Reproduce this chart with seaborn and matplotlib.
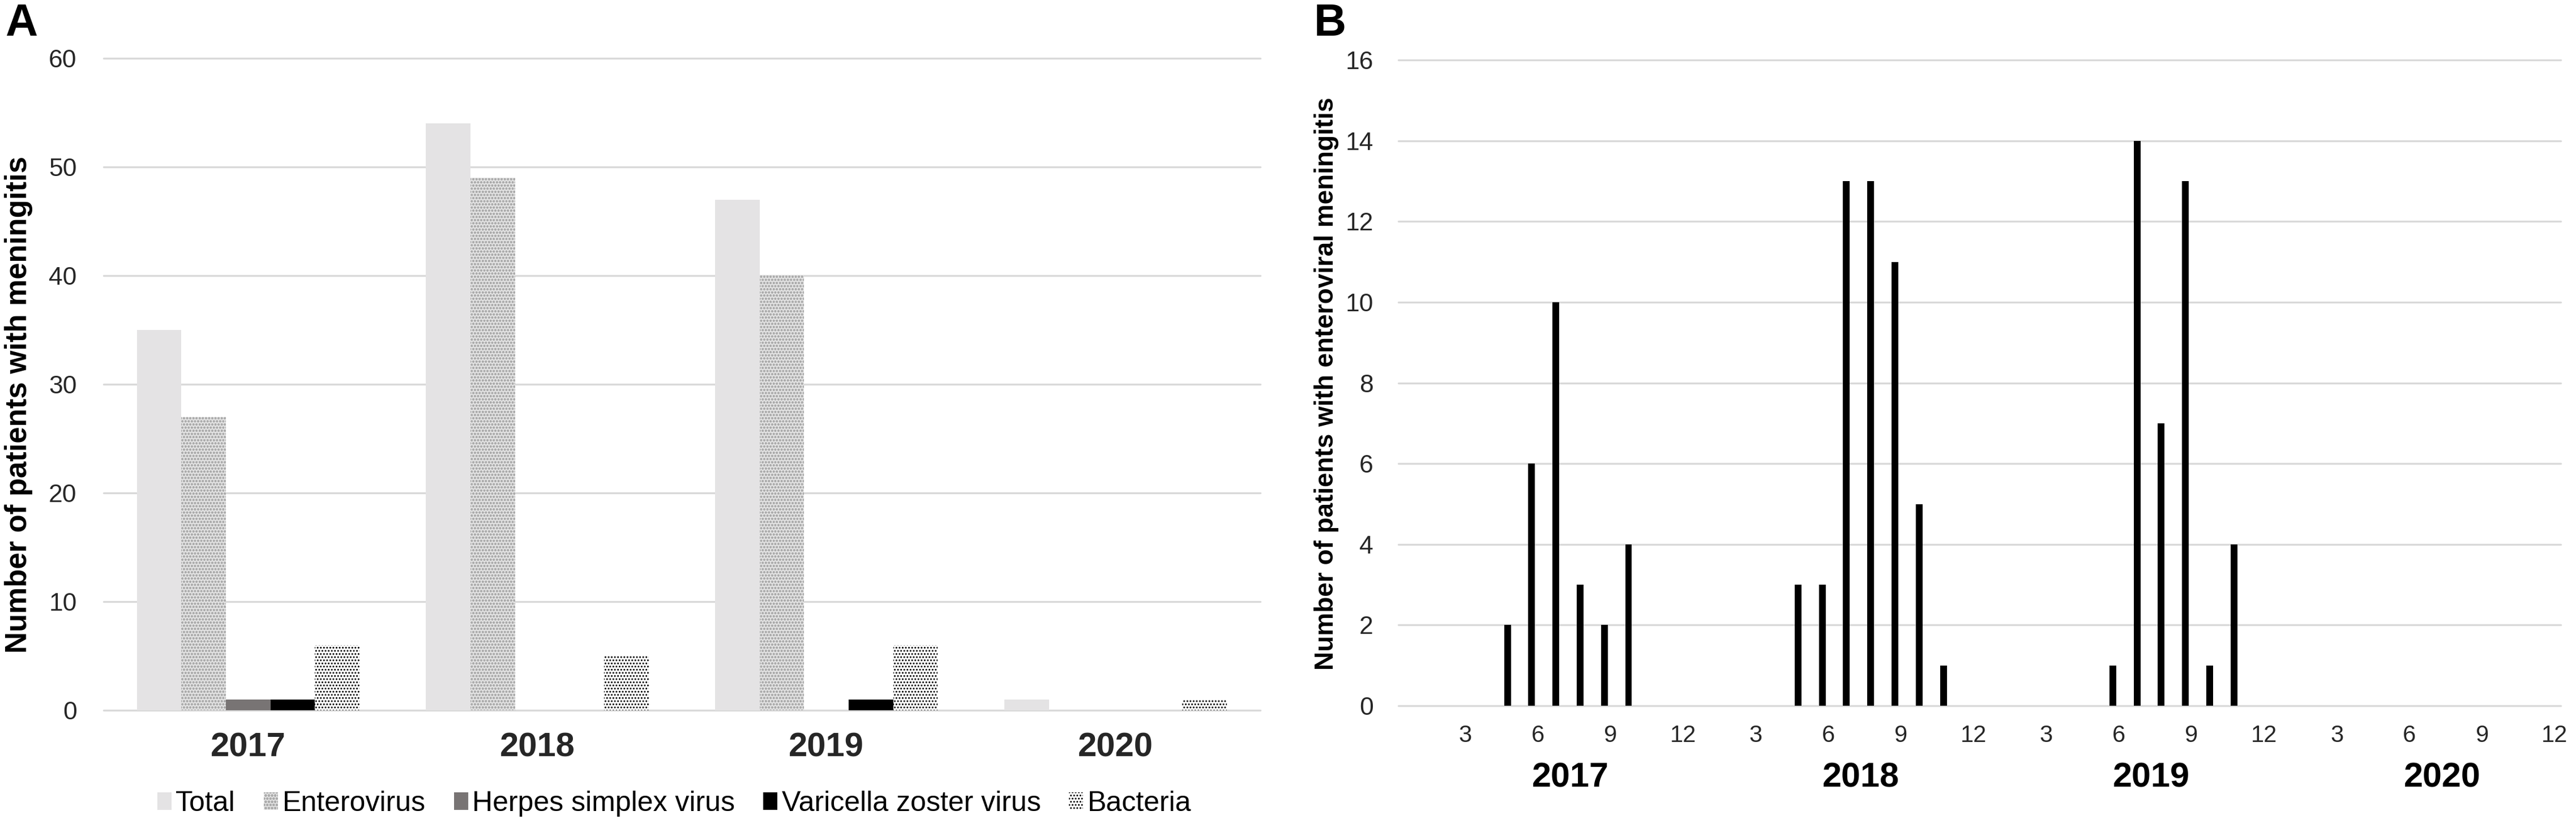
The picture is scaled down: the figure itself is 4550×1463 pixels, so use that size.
import matplotlib
matplotlib.use("Agg")
import matplotlib.pyplot as plt
import matplotlib.transforms as mtransforms
import numpy as np
import pandas as pd
import seaborn as sns

# panel A: yearly counts
years = ["2017", "2018", "2019", "2020"]
groups = ["Total", "Enterovirus", "Herpes simplex virus", "Varicella zoster virus", "Bacteria"]
total = [35, 54, 47, 1]
enterovirus = [27, 49, 40, 0]
herpes = [1, 0, 0, 0]
varicella = [1, 0, 1, 0]
bacteria = [6, 5, 6, 1]

# panel B: monthly enteroviral meningitis
months = [1, 2, 3, 4, 5, 6, 7, 8, 9, 10, 11, 12]
ev_2017 = [0, 0, 0, 0, 2, 6, 10, 3, 2, 4, 0, 0]
ev_2018 = [0, 0, 0, 0, 3, 3, 13, 13, 11, 5, 1, 0]
ev_2019 = [0, 0, 0, 0, 0, 1, 14, 7, 13, 1, 4, 0]
ev_2020 = [0, 0, 0, 0, 0, 0, 0, 0, 0, 0, 0, 0]
month_ticks = [3, 6, 9, 12]

GRID = "#d9d9d9"
colors = ["#e4e3e4", "#e2e2e2", "#787474", "#000000", "#ffffff"]
hatch_col = ["#e4e3e4", "#ababab", "#787474", "#000000", "#000000"]
hatches = ["", "ooo", "", "", "..."]
hatch_lw = [1, 1.1, 1, 1, 1.4]

sns.set_style("white")
plt.rcParams["font.family"] = ["Liberation Sans", "DejaVu Sans"]
plt.rcParams["hatch.linewidth"] = 1.4
plt.rcParams["text.color"] = "black"

fig = plt.figure(figsize=(45.5, 14.63), dpi=100)

# ---------- A ----------
rows = []
for g, vals in zip(groups, [total, enterovirus, herpes, varicella, bacteria]):
    for y, v in zip(years, vals):
        rows.append({"year": y, "group": g, "n": v})
df_a = pd.DataFrame(rows)

ax_a = fig.add_axes([0.0402, 0.1422, 0.449, 0.7874])
sns.barplot(data=df_a, x="year", y="n", hue="group", order=years, hue_order=groups,
            palette=colors, width=0.77, saturation=1, errorbar=None, legend=False,
            ax=ax_a)
for cont, h, ec, hl in zip(ax_a.containers, hatches, hatch_col, hatch_lw):
    for bar in cont:
        bar.set_hatch(h)
        bar.set_edgecolor(ec)
        bar.set_linewidth(0)
        if hasattr(bar, "set_hatch_linewidth"):
            bar.set_hatch_linewidth(hl)

ax_a.set_xlim(-0.5, 3.5)
ax_a.set_ylim(0, 60)
ax_a.set_yticks(range(0, 61, 10))
ax_a.yaxis.grid(True, color=GRID, linewidth=2.4)
for l in ax_a.get_ygridlines():
    l.set_clip_on(False)
ax_a.set_axisbelow(True)
for s in ax_a.spines.values():
    s.set_visible(False)
ax_a.set_xlabel("")
ax_a.set_ylabel("")
ax_a.tick_params(axis="y", length=0, pad=34, labelsize=32)
ax_a.tick_params(axis="x", length=0, pad=28, labelsize=43)
for t in ax_a.get_xticklabels():
    t.set_fontweight("bold")

handles = [c.patches[0] for c in ax_a.containers]
fig.legend(handles, groups, loc="center", bbox_to_anchor=(1191 / 4550, 1 - 1420 / 1463),
           ncol=5, frameon=False, fontsize=36, handlelength=0.5, handleheight=0.6,
           handletextpad=0.15, columnspacing=1.0, borderaxespad=0)

fig.text(33 / 4550, 0.511, "Number of patients with meningitis", rotation=90,
         ha="center", va="center", fontsize=38, fontweight="bold")
fig.text(9 / 4550, 1 - 63 / 1463, "A", ha="left", va="baseline", fontsize=57, fontweight="bold")

# ---------- B ----------
periods = [f"{y}-{m:02d}" for y in years for m in months]
cases = ev_2017 + ev_2018 + ev_2019 + ev_2020
df_b = pd.DataFrame({"period": periods, "cases": cases})

ax_b = fig.add_axes([0.5429, 0.1476, 0.4512, 0.7799])
sns.barplot(data=df_b, x="period", y="cases", order=periods, color="black", width=0.28,
            saturation=1, errorbar=None, linewidth=0, ax=ax_b)

ax_b.set_xlim(-0.5, 47.5)
ax_b.set_ylim(0, 16)
ax_b.set_yticks(range(0, 17, 2))
ax_b.yaxis.grid(True, color=GRID, linewidth=2.4)
for l in ax_b.get_ygridlines():
    l.set_clip_on(False)
ax_b.set_axisbelow(True)
for s in ax_b.spines.values():
    s.set_visible(False)
ax_b.set_xlabel("")
ax_b.set_ylabel("")

tick_pos = [12 * i + m - 1 + 0.25 for i in range(len(years)) for m in month_ticks]
tick_lab = [str(m) for i in range(len(years)) for m in month_ticks]
ax_b.set_xticks(tick_pos)
ax_b.set_xticklabels(tick_lab)
ax_b.set_xticks(np.arange(-0.5, 48, 2), minor=True)
ax_b.tick_params(axis="x", which="major", length=0, pad=24, labelsize=30)
ax_b.tick_params(axis="x", which="minor", length=8, width=1.5, color=GRID, direction="out")
ax_b.tick_params(axis="y", length=0, pad=32, labelsize=32)

trans = mtransforms.blended_transform_factory(ax_b.transData, ax_b.transAxes)
for i, y in enumerate(years):
    ax_b.text(12 * i + 6.6, -0.112, y, transform=trans, ha="center", va="center",
              fontsize=44, fontweight="bold")

fig.text(2343 / 4550, 1 - 678 / 1463, "Number of patients with enteroviral meningitis",
         rotation=90, ha="center", va="center", fontsize=33, fontweight="bold",
         family=["Liberation Sans Narrow", "Liberation Sans", "DejaVu Sans"])
fig.text(2321 / 4550, 1 - 63 / 1463, "B", ha="left", va="baseline", fontsize=57,
         fontweight="bold")

fig.savefig("out.png", dpi=100)
